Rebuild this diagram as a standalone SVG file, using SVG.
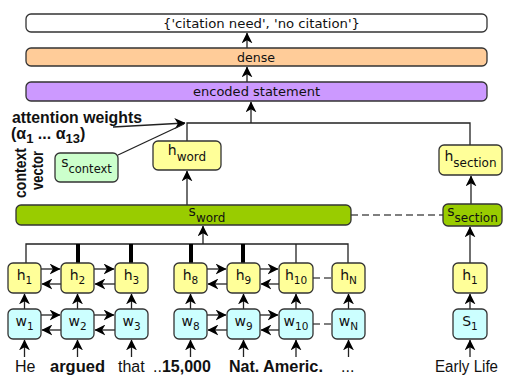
<svg xmlns="http://www.w3.org/2000/svg" width="505" height="375" viewBox="0 0 505 375">
<style>
.box{stroke:#333;stroke-width:1.3}
.wh{fill:#fff}.or{fill:#ffcc99}.pu{fill:#cc99ff}.ye{fill:#ffff99}.cy{fill:#ccffff}.gr{fill:#99cc00}.lg{fill:#ccffcc}
.t{font-family:"DejaVu Sans",sans-serif;font-size:12px;fill:#111}
.lbl{font-family:"DejaVu Sans",sans-serif;font-size:14px;fill:#111;text-anchor:middle}
.sub{font-size:10.5px}
.ln{stroke:#222;stroke-width:1.3;fill:none}
.thick{stroke:#000;stroke-width:4;fill:none}
.dash{stroke:#555;stroke-width:1.5;stroke-dasharray:7 4;fill:none}
.word{font-family:"Liberation Sans",Arial,sans-serif;font-size:16px;fill:#111}
.b{font-weight:bold}
</style>
<defs>
<marker id="ah" viewBox="0 0 10 10" refX="9.5" refY="5" markerWidth="11" markerHeight="11" orient="auto" markerUnits="userSpaceOnUse">
<path d="M0,0 L10,5 L0,10 L3,5 z" fill="#000"/>
</marker>
</defs>

<g id="connectors">
<line class="ln" x1="247" y1="48" x2="247" y2="33" marker-end="url(#ah)"/>
<line class="ln" x1="247" y1="82" x2="247" y2="67" marker-end="url(#ah)"/>
<line class="ln" x1="251" y1="123" x2="251" y2="102" marker-end="url(#ah)"/>
<polyline class="ln" points="187,141 187,123 470,123 470,145"/>
<line class="ln" x1="113" y1="127" x2="185" y2="123" marker-end="url(#ah)"/>
<line class="ln" x1="118" y1="155" x2="184" y2="124"/>
<line class="ln" x1="187" y1="205" x2="187" y2="171" marker-end="url(#ah)"/>
<line class="ln" x1="471" y1="204" x2="471" y2="176" marker-end="url(#ah)"/>
<line class="dash" x1="351" y1="215" x2="443" y2="215"/>
<polyline class="ln" points="26,263 26,244 348,244 348,263"/>
<line class="ln" x1="296" y1="244" x2="296" y2="263"/>
<line class="thick" x1="78" y1="244" x2="78" y2="263"/>
<line class="thick" x1="131" y1="244" x2="131" y2="263"/>
<line class="thick" x1="191" y1="244" x2="191" y2="263"/>
<line class="thick" x1="243" y1="244" x2="243" y2="263"/>
<line class="ln" x1="203" y1="244" x2="203" y2="226" marker-end="url(#ah)"/>
<line class="ln" x1="470" y1="263" x2="470" y2="227" marker-end="url(#ah)"/>
<line class="ln" x1="24.5" y1="309" x2="24.5" y2="294" marker-end="url(#ah)"/>
<line class="ln" x1="77.5" y1="309" x2="77.5" y2="294" marker-end="url(#ah)"/>
<line class="ln" x1="131.5" y1="309" x2="131.5" y2="294" marker-end="url(#ah)"/>
<line class="ln" x1="190.5" y1="309" x2="190.5" y2="294" marker-end="url(#ah)"/>
<line class="ln" x1="243.5" y1="309" x2="243.5" y2="294" marker-end="url(#ah)"/>
<line class="ln" x1="296" y1="309" x2="296" y2="294" marker-end="url(#ah)"/>
<line class="ln" x1="348.5" y1="309" x2="348.5" y2="294" marker-end="url(#ah)"/>
<line class="ln" x1="470" y1="309" x2="470" y2="294" marker-end="url(#ah)"/>
<line class="ln" x1="24.5" y1="357" x2="24.5" y2="340" marker-end="url(#ah)"/>
<line class="ln" x1="77.5" y1="357" x2="77.5" y2="340" marker-end="url(#ah)"/>
<line class="ln" x1="131.5" y1="357" x2="131.5" y2="340" marker-end="url(#ah)"/>
<line class="ln" x1="190.5" y1="357" x2="190.5" y2="340" marker-end="url(#ah)"/>
<line class="ln" x1="243.5" y1="357" x2="243.5" y2="340" marker-end="url(#ah)"/>
<line class="ln" x1="296" y1="357" x2="296" y2="340" marker-end="url(#ah)"/>
<line class="ln" x1="348.5" y1="357" x2="348.5" y2="340" marker-end="url(#ah)"/>
<line class="ln" x1="470" y1="357" x2="470" y2="340" marker-end="url(#ah)"/>
<line class="ln" x1="41" y1="269" x2="60" y2="269" marker-end="url(#ah)"/>
<line class="ln" x1="61" y1="284" x2="42" y2="284" marker-end="url(#ah)"/>
<line class="ln" x1="94" y1="269" x2="114" y2="269" marker-end="url(#ah)"/>
<line class="ln" x1="115" y1="284" x2="95" y2="284" marker-end="url(#ah)"/>
<line class="ln" x1="207" y1="269" x2="226" y2="269" marker-end="url(#ah)"/>
<line class="ln" x1="227" y1="284" x2="208" y2="284" marker-end="url(#ah)"/>
<line class="ln" x1="260" y1="269" x2="278" y2="269" marker-end="url(#ah)"/>
<line class="ln" x1="279" y1="284" x2="261" y2="284" marker-end="url(#ah)"/>
<line class="dash" x1="313" y1="278" x2="332" y2="278"/>
<line class="ln" x1="41" y1="315" x2="60" y2="315" marker-end="url(#ah)"/>
<line class="ln" x1="61" y1="330" x2="42" y2="330" marker-end="url(#ah)"/>
<line class="ln" x1="94" y1="315" x2="114" y2="315" marker-end="url(#ah)"/>
<line class="ln" x1="115" y1="330" x2="95" y2="330" marker-end="url(#ah)"/>
<line class="ln" x1="207" y1="315" x2="226" y2="315" marker-end="url(#ah)"/>
<line class="ln" x1="227" y1="330" x2="208" y2="330" marker-end="url(#ah)"/>
<line class="ln" x1="260" y1="315" x2="278" y2="315" marker-end="url(#ah)"/>
<line class="ln" x1="279" y1="330" x2="261" y2="330" marker-end="url(#ah)"/>
<line class="dash" x1="313" y1="324" x2="332" y2="324"/>
</g>

<g id="output"><rect class="box wh" x="26" y="14" width="461" height="18" rx="5"/>
<text class="t" x="163" y="27.5" textLength="197" lengthAdjust="spacingAndGlyphs">{'citation need', 'no citation'}</text></g>
<g id="dense"><rect class="box or" x="26" y="48" width="461" height="18" rx="5"/>
<text class="t" x="237" y="61.5" textLength="38" lengthAdjust="spacingAndGlyphs">dense</text></g>
<g id="encoded"><rect class="box pu" x="26" y="82" width="461" height="19" rx="5"/>
<text class="t" x="193" y="96" textLength="127" lengthAdjust="spacingAndGlyphs">encoded statement</text></g>

<g id="attention-label">
<text class="word b" x="12" y="123" font-size="15" textLength="130" lengthAdjust="spacingAndGlyphs">attention weights</text>
<text class="word b" x="11" y="139" font-size="17">(α<tspan dy="4" font-size="13">1</tspan><tspan dy="-4"> ... α</tspan><tspan dy="4" font-size="13">13</tspan><tspan dy="-4">)</tspan></text>
<text class="word b" font-size="16" transform="translate(26,198) rotate(-90)" textLength="50" lengthAdjust="spacingAndGlyphs">context</text>
<text class="word b" font-size="16" transform="translate(43,190) rotate(-90)" textLength="39" lengthAdjust="spacingAndGlyphs">vector</text>
</g>

<g id="s_context"><rect class="box lg" x="55" y="153" width="63" height="29" rx="5"/>
<text class="lbl" x="86.5" y="167" font-size="13">s<tspan font-size="11.5" dy="6">context</tspan></text></g>
<g id="h_word"><rect class="box ye" x="153" y="141" width="68" height="29" rx="5"/>
<text class="lbl" x="187" y="155">h<tspan font-size="12" dy="6">word</tspan></text></g>
<g id="h_section"><rect class="box ye" x="439" y="145" width="63" height="30" rx="5"/>
<text class="lbl" x="470.5" y="161">h<tspan font-size="12" dy="6">section</tspan></text></g>
<g id="s_word"><rect class="box gr" x="16" y="205" width="335" height="20" rx="5"/>
<text class="lbl" x="207" y="216">s<tspan font-size="12" dy="6">word</tspan></text></g>
<g id="s_section"><rect class="box gr" x="443" y="204" width="59" height="22" rx="5"/>
<text class="lbl" x="472.5" y="216">s<tspan font-size="12" dy="6">section</tspan></text></g>

<g id="h1"><rect class="box ye" x="8" y="263" width="33" height="30" rx="5"/><text class="lbl" x="24.5" y="280">h<tspan class="sub" dy="4">1</tspan></text></g>
<g id="h2"><rect class="box ye" x="61" y="263" width="33" height="30" rx="5"/><text class="lbl" x="77.5" y="280">h<tspan class="sub" dy="4">2</tspan></text></g>
<g id="h3"><rect class="box ye" x="115" y="263" width="33" height="30" rx="5"/><text class="lbl" x="131.5" y="280">h<tspan class="sub" dy="4">3</tspan></text></g>
<g id="h8"><rect class="box ye" x="174" y="263" width="33" height="30" rx="5"/><text class="lbl" x="190.5" y="280">h<tspan class="sub" dy="4">8</tspan></text></g>
<g id="h9"><rect class="box ye" x="227" y="263" width="33" height="30" rx="5"/><text class="lbl" x="243.5" y="280">h<tspan class="sub" dy="4">9</tspan></text></g>
<g id="h10"><rect class="box ye" x="279" y="263" width="34" height="30" rx="5"/><text class="lbl" x="296" y="280">h<tspan class="sub" dy="4">10</tspan></text></g>
<g id="hN"><rect class="box ye" x="332" y="263" width="33" height="30" rx="5"/><text class="lbl" x="348.5" y="280">h<tspan class="sub" dy="4">N</tspan></text></g>
<g id="hs1"><rect class="box ye" x="453" y="263" width="34" height="30" rx="5"/><text class="lbl" x="470" y="280">h<tspan class="sub" dy="4">1</tspan></text></g>

<g id="w1"><rect class="box cy" x="8" y="309" width="33" height="30" rx="5"/><text class="lbl" x="24.5" y="326">w<tspan class="sub" dy="4">1</tspan></text></g>
<g id="w2"><rect class="box cy" x="61" y="309" width="33" height="30" rx="5"/><text class="lbl" x="77.5" y="326">w<tspan class="sub" dy="4">2</tspan></text></g>
<g id="w3"><rect class="box cy" x="115" y="309" width="33" height="30" rx="5"/><text class="lbl" x="131.5" y="326">w<tspan class="sub" dy="4">3</tspan></text></g>
<g id="w8"><rect class="box cy" x="174" y="309" width="33" height="30" rx="5"/><text class="lbl" x="190.5" y="326">w<tspan class="sub" dy="4">8</tspan></text></g>
<g id="w9"><rect class="box cy" x="227" y="309" width="33" height="30" rx="5"/><text class="lbl" x="243.5" y="326">w<tspan class="sub" dy="4">9</tspan></text></g>
<g id="w10"><rect class="box cy" x="279" y="309" width="34" height="30" rx="5"/><text class="lbl" x="296" y="326">w<tspan class="sub" dy="4">10</tspan></text></g>
<g id="wN"><rect class="box cy" x="332" y="309" width="33" height="30" rx="5"/><text class="lbl" x="348.5" y="326">w<tspan class="sub" dy="4">N</tspan></text></g>
<g id="S1"><rect class="box cy" x="453" y="309" width="34" height="30" rx="5"/><text class="lbl" x="470" y="326">S<tspan class="sub" dy="4">1</tspan></text></g>

<g id="words">
<text class="word" x="15" y="372">He</text>
<text class="word b" x="50" y="372" textLength="55" lengthAdjust="spacingAndGlyphs">argued</text>
<text class="word" x="118" y="372">that</text>
<text class="word" x="153" y="372">..<tspan class="b">15,000</tspan></text>
<text class="word b" x="229" y="372">Nat.</text>
<text class="word b" x="263" y="372" textLength="60" lengthAdjust="spacingAndGlyphs">Americ.</text>
<text class="word" x="341" y="372">...</text>
<text class="word" x="435" y="372" textLength="63" lengthAdjust="spacingAndGlyphs">Early Life</text>
</g>
</svg>
